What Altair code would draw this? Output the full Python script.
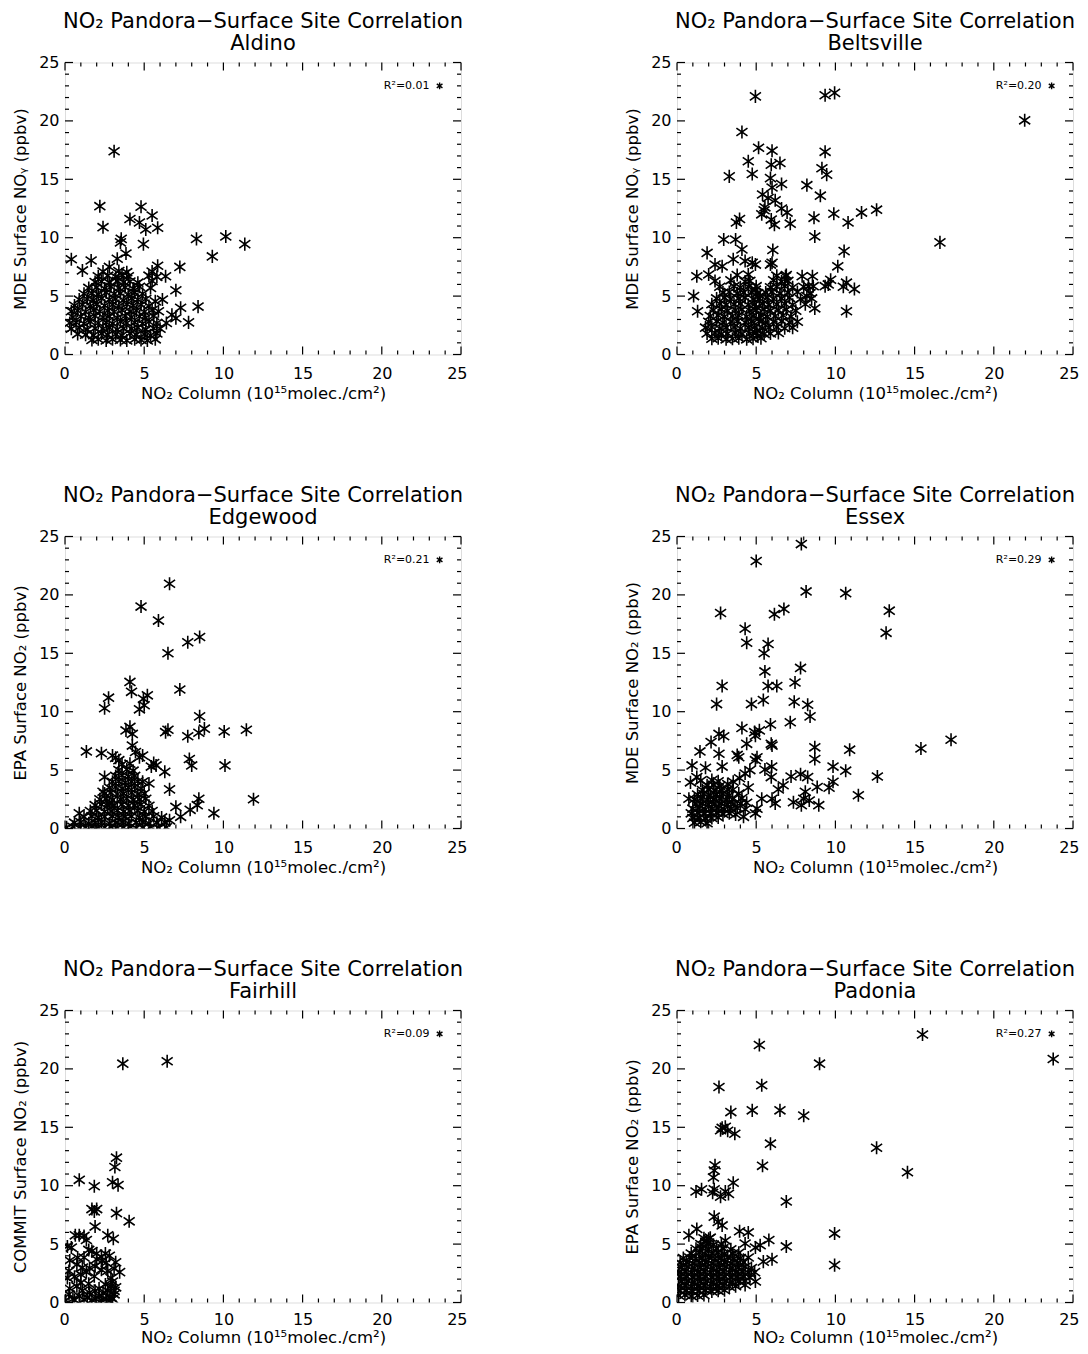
import altair as alt
import pandas as pd

FONT = "DejaVu Sans"

SITES = ["Aldino", "Beltsville", "Edgewood", "Essex", "Fairhill", "Padonia"]
Y_TITLES = [
    "MDE Surface NOᵧ (ppbv)",
    "MDE Surface NOᵧ (ppbv)",
    "EPA Surface NO₂ (ppbv)",
    "MDE Surface NO₂ (ppbv)",
    "COMMIT Surface NO₂ (ppbv)",
    "EPA Surface NO₂ (ppbv)",
]
R2_LABELS = ["R²=0.01", "R²=0.20", "R²=0.21", "R²=0.29", "R²=0.09", "R²=0.27"]
TITLE_LINE = "NO₂ Pandora−Surface Site Correlation"
X_TITLE = "NO₂ Column (10¹⁵molec./cm²)"
MAJOR_TICKS = [0, 5, 10, 15, 20, 25]
MINOR_TICKS = [1, 2, 3, 4, 6, 7, 8, 9, 11, 12, 13, 14, 16, 17, 18, 19, 21, 22, 23, 24]
LEGEND_POS = (23.65, 23.0)

ALDINO = [
    (3.1, 17.4), (2.2, 12.7), (4.8, 12.65), (5.5, 11.9), (4.1, 11.6), (4.7, 11.3), (2.4, 10.9), (5.1, 10.7),
    (5.85, 10.85), (3.55, 9.9), (3.5, 9.6), (4.95, 9.45), (3.85, 8.65), (3.3, 8.2), (0.4, 8.15), (1.65, 8.05),
    (1.1, 7.2), (2.8, 7.5), (5.85, 7.6), (7.25, 7.5), (5.5, 7.1), (6.35, 6.7), (7.0, 5.5), (7.3, 4.0), (8.4, 4.1),
    (6.75, 3.4), (7.0, 3.1), (7.8, 2.75), (6.4, 2.7), (8.3, 9.9), (10.15, 10.1), (11.35, 9.45), (9.3, 8.4),
    (6.15, 4.7), (5.7, 4.55),
    (1.7, 1.25), (2.1, 1.3), (2.6, 1.2), (3.0, 1.3), (3.5, 1.25), (3.9, 1.2), (4.4, 1.3), (4.8, 1.25), (5.2, 1.2), (5.7, 1.3),
    (0.8, 1.75), (1.3, 1.7), (1.8, 1.65), (2.3, 1.8), (2.7, 1.7), (3.2, 1.75), (3.6, 1.65), (4.1, 1.8), (4.5, 1.7),
    (5.0, 1.75), (5.4, 1.65), (5.8, 1.8),
    (0.4, 2.2), (0.9, 2.3), (1.4, 2.15), (1.9, 2.25), (2.4, 2.2), (2.8, 2.3), (3.3, 2.15), (3.7, 2.25), (4.2, 2.2),
    (4.6, 2.3), (5.1, 2.15), (5.6, 2.25), (6.0, 2.2),
    (0.3, 2.7), (0.7, 2.75), (1.2, 2.65), (1.6, 2.8), (2.1, 2.7), (2.6, 2.75), (3.0, 2.65), (3.5, 2.8), (3.9, 2.7),
    (4.4, 2.75), (4.9, 2.65), (5.3, 2.8), (5.8, 2.7),
    (0.5, 3.2), (1.0, 3.25), (1.5, 3.15), (1.9, 3.3), (2.4, 3.2), (2.8, 3.25), (3.3, 3.15), (3.8, 3.3), (4.2, 3.2),
    (4.7, 3.25), (5.1, 3.15), (5.6, 3.3),
    (0.4, 3.7), (0.8, 3.75), (1.3, 3.65), (1.8, 3.8), (2.2, 3.7), (2.7, 3.75), (3.1, 3.65), (3.6, 3.8), (4.1, 3.7),
    (4.5, 3.75), (5.0, 3.65), (5.5, 3.8), (5.9, 3.7),
    (0.6, 4.2), (1.1, 4.25), (1.6, 4.15), (2.0, 4.3), (2.5, 4.2), (3.0, 4.25), (3.4, 4.15), (3.9, 4.3), (4.3, 4.2),
    (4.8, 4.25), (5.3, 4.15),
    (0.9, 4.7), (1.4, 4.75), (1.8, 4.65), (2.3, 4.8), (2.8, 4.7), (3.2, 4.75), (3.7, 4.65), (4.2, 4.8), (4.6, 4.7), (5.1, 4.75),
    (1.2, 5.2), (1.7, 5.25), (2.1, 5.15), (2.6, 5.3), (3.1, 5.2), (3.5, 5.25), (4.0, 5.15), (4.4, 5.3), (4.9, 5.2),
    (1.5, 5.7), (2.0, 5.75), (2.5, 5.65), (2.9, 5.8), (3.4, 5.7), (3.8, 5.75), (4.3, 5.65), (4.7, 5.8), (5.4, 5.7),
    (1.9, 6.2), (2.3, 6.25), (2.8, 6.15), (3.3, 6.3), (3.7, 6.2), (4.1, 6.25), (4.6, 6.15), (5.5, 6.3),
    (2.1, 6.7), (2.7, 6.75), (3.2, 6.65), (3.6, 6.8), (4.0, 6.7), (5.3, 6.75), (5.8, 6.65),
    (2.4, 7.1), (3.4, 7.15), (3.9, 7.05),
]

BELTSVILLE = [
    (21.95, 20.05), (16.6, 9.6), (4.95, 22.1), (9.35, 22.2), (9.95, 22.4), (4.1, 19.05), (5.15, 17.7), (6.0, 17.45),
    (9.35, 17.35), (4.5, 16.55), (5.95, 16.25), (6.5, 16.4), (9.15, 15.95), (4.75, 15.45), (9.45, 15.4), (3.3, 15.25),
    (5.9, 15.1), (6.6, 14.6), (8.2, 14.5), (6.0, 14.3), (5.4, 13.7), (9.05, 13.6), (5.75, 13.4), (6.2, 13.2),
    (5.55, 12.6), (5.5, 12.35), (5.35, 12.0), (6.6, 12.5), (6.95, 12.15), (5.95, 11.55), (6.15, 11.1), (7.15, 11.2),
    (3.75, 11.3), (3.95, 11.6), (9.9, 12.05), (8.65, 11.7), (10.8, 11.3), (11.65, 12.15), (12.6, 12.4), (8.7, 10.1),
    (2.95, 9.85), (3.7, 9.85), (6.05, 8.95), (10.55, 8.85), (1.9, 8.7), (4.1, 9.0), (10.15, 7.55), (6.0, 7.85),
    (2.4, 7.7), (2.85, 7.55), (3.55, 8.15), (4.3, 8.0), (4.75, 7.85), (4.95, 7.7), (1.25, 6.7), (2.0, 6.85),
    (1.05, 5.0), (1.3, 3.7), (8.7, 3.95), (10.7, 3.7), (9.55, 6.0), (11.2, 5.6), (10.5, 5.8), (10.7, 6.15),
    (9.35, 5.85), (9.7, 6.4), (7.9, 6.7), (8.55, 6.7), (8.3, 5.85), (8.2, 5.0), (6.85, 6.7), (5.9, 7.7),
    (2.2, 1.35), (2.6, 1.4), (3.1, 1.3), (3.5, 1.35), (3.9, 1.4), (4.4, 1.3), (4.8, 1.35), (5.3, 1.4),
    (1.9, 1.8), (2.4, 1.85), (2.8, 1.75), (3.2, 1.8), (3.7, 1.85), (4.1, 1.75), (4.6, 1.8), (5.0, 1.85), (5.5, 1.75),
    (5.9, 1.8), (6.4, 1.85),
    (1.8, 2.3), (2.2, 2.35), (2.7, 2.25), (3.1, 2.3), (3.6, 2.35), (4.0, 2.25), (4.5, 2.3), (4.9, 2.35), (5.4, 2.25),
    (5.8, 2.3), (6.3, 2.35), (6.8, 2.25), (7.3, 2.3),
    (2.0, 2.8), (2.5, 2.85), (2.9, 2.75), (3.4, 2.8), (3.8, 2.85), (4.3, 2.75), (4.7, 2.8), (5.2, 2.85), (5.6, 2.75),
    (6.1, 2.8), (6.6, 2.85), (7.1, 2.75), (7.6, 2.8),
    (2.1, 3.3), (2.6, 3.35), (3.0, 3.25), (3.5, 3.3), (3.9, 3.35), (4.4, 3.25), (4.8, 3.3), (5.3, 3.35), (5.7, 3.25),
    (6.2, 3.3), (6.7, 3.35), (7.2, 3.25),
    (2.3, 3.8), (2.8, 3.85), (3.2, 3.75), (3.7, 3.8), (4.1, 3.85), (4.6, 3.75), (5.0, 3.8), (5.5, 3.85), (5.9, 3.75),
    (6.4, 3.8), (6.9, 3.85), (7.5, 3.75),
    (2.2, 4.3), (2.7, 4.35), (3.1, 4.25), (3.6, 4.3), (4.0, 4.35), (4.5, 4.25), (4.9, 4.3), (5.4, 4.35), (5.8, 4.25),
    (6.3, 4.3), (6.8, 4.35), (7.3, 4.25), (8.1, 4.3),
    (2.5, 4.8), (3.0, 4.85), (3.4, 4.75), (3.9, 4.8), (4.3, 4.85), (4.8, 4.75), (5.2, 4.8), (5.7, 4.85), (6.1, 4.75),
    (6.6, 4.8), (7.1, 4.85), (7.8, 4.75), (8.5, 4.8),
    (2.9, 5.3), (3.3, 5.35), (3.8, 5.25), (4.2, 5.3), (4.7, 5.35), (5.1, 5.25), (5.6, 5.3), (6.0, 5.35), (6.5, 5.25),
    (7.0, 5.3), (7.6, 5.35), (8.4, 5.25),
    (2.7, 5.8), (3.6, 5.85), (4.0, 5.75), (4.5, 5.8), (5.0, 5.85), (5.9, 5.75), (6.3, 5.8), (6.8, 5.85), (7.3, 5.75),
    (8.0, 5.8), (8.6, 5.85),
    (2.4, 6.3), (3.4, 6.35), (4.3, 6.25), (4.6, 6.3), (6.1, 6.35), (6.6, 6.25), (7.0, 6.3),
    (3.8, 6.8), (4.5, 6.85), (6.3, 6.75), (6.9, 6.8),
    (5.05, 2.05), (5.15, 3.05), (5.0, 4.05), (5.25, 5.05), (4.95, 5.55), (5.1, 1.6),
]

EDGEWOOD = [
    (6.6, 20.95), (4.8, 19.0), (5.9, 17.8), (7.75, 15.95), (8.5, 16.4), (6.5, 15.0), (4.1, 12.55), (4.2, 11.7),
    (7.25, 11.9), (2.75, 11.2), (2.5, 10.3), (5.2, 11.4), (4.95, 11.1), (4.7, 10.2), (5.0, 10.55), (8.5, 9.6),
    (3.85, 8.4), (4.1, 8.7), (4.25, 8.1), (6.35, 8.25), (6.5, 8.45), (7.75, 7.9), (8.45, 8.2), (8.8, 8.55),
    (10.05, 8.3), (11.45, 8.45), (4.25, 7.1), (4.45, 6.55), (1.35, 6.6), (2.3, 6.45), (7.85, 5.95), (8.0, 5.4),
    (10.1, 5.4), (6.3, 4.85), (6.6, 3.35), (11.9, 2.5), (8.45, 2.55), (8.35, 2.0), (7.9, 1.6), (9.4, 1.3),
    (7.0, 1.85), (7.3, 1.0), (6.6, 0.7), (5.6, 5.6), (5.45, 5.3), (5.75, 5.4), (4.7, 6.1), (4.9, 6.25),
    (3.2, 6.05), (3.4, 5.85), (3.0, 6.25), (2.5, 4.4), (2.4, 3.15), (4.9, 4.0), (5.3, 3.85), (2.8, 2.15), (0.9, 1.3),
    (0.1, 0.1), (0.5, 0.15), (0.9, 0.05), (1.3, 0.1), (1.7, 0.15), (2.1, 0.05), (2.5, 0.1), (2.9, 0.15), (3.3, 0.05),
    (3.7, 0.1), (4.1, 0.15), (4.5, 0.05), (4.9, 0.1), (5.4, 0.15), (5.9, 0.05), (6.4, 0.1),
    (0.6, 0.5), (1.0, 0.55), (1.5, 0.45), (1.9, 0.5), (2.3, 0.55), (2.8, 0.45), (3.2, 0.5), (3.6, 0.55), (4.0, 0.45),
    (4.5, 0.5), (4.9, 0.55), (5.3, 0.45), (5.8, 0.5), (6.3, 0.55),
    (1.2, 1.0), (1.7, 1.05), (2.1, 0.95), (2.5, 1.0), (3.0, 1.05), (3.4, 0.95), (3.8, 1.0), (4.2, 1.05), (4.7, 0.95),
    (5.1, 1.0), (5.6, 1.05), (6.1, 0.95),
    (1.6, 1.5), (2.0, 1.55), (2.5, 1.45), (2.9, 1.5), (3.3, 1.55), (3.7, 1.45), (4.1, 1.5), (4.6, 1.55), (5.0, 1.45), (5.5, 1.5),
    (1.9, 2.0), (2.3, 2.05), (2.7, 1.95), (3.1, 2.0), (3.6, 2.05), (4.0, 1.95), (4.4, 2.0), (4.8, 2.05), (5.3, 1.95),
    (2.2, 2.5), (2.6, 2.55), (3.0, 2.45), (3.5, 2.5), (3.9, 2.55), (4.3, 2.45), (4.7, 2.5), (5.1, 2.55),
    (2.5, 3.0), (2.9, 3.05), (3.3, 2.95), (3.7, 3.0), (4.2, 3.05), (4.6, 2.95), (5.0, 3.0),
    (2.8, 3.5), (3.2, 3.55), (3.6, 3.45), (4.0, 3.5), (4.4, 3.55), (4.8, 3.45),
    (3.0, 4.0), (3.4, 4.05), (3.8, 3.95), (4.2, 4.0), (4.6, 4.05),
    (3.2, 4.5), (3.6, 4.55), (4.0, 4.45), (4.4, 4.5),
    (3.4, 5.0), (3.9, 5.05), (4.3, 4.95),
    (3.6, 5.5), (4.1, 5.55),
]

ESSEX = [
    (7.85, 24.35), (5.0, 22.9), (8.15, 20.3), (10.65, 20.15), (13.4, 18.65), (13.2, 16.75), (2.75, 18.45),
    (6.75, 18.8), (6.15, 18.35), (4.3, 17.1), (4.4, 15.9), (5.5, 15.0), (5.75, 15.8), (15.4, 6.85), (17.3, 7.6),
    (7.8, 13.75), (5.55, 13.45), (7.45, 12.5), (2.85, 12.2), (5.75, 12.2), (6.3, 12.2), (5.45, 11.0), (7.4, 10.85),
    (2.5, 10.65), (4.7, 10.65), (8.25, 10.6), (8.4, 9.6), (7.15, 9.1), (5.9, 8.9), (4.1, 8.6), (2.65, 8.1),
    (2.95, 7.9), (4.9, 8.25), (5.2, 8.4), (4.95, 7.95), (5.95, 7.25), (6.0, 7.1), (4.4, 7.25), (2.15, 7.4),
    (1.45, 6.6), (2.65, 6.4), (3.8, 6.3), (3.9, 6.1), (5.05, 6.1), (4.95, 5.85), (10.9, 6.75), (8.7, 6.95),
    (8.7, 5.95), (9.85, 5.3), (10.65, 4.95), (12.65, 4.45), (11.45, 2.85), (9.85, 4.0), (9.6, 3.5), (8.85, 3.55),
    (8.95, 2.0), (8.35, 2.4), (7.8, 4.65), (8.25, 4.4), (7.2, 4.45), (8.1, 3.15), (8.0, 2.55), (7.35, 2.25),
    (7.85, 2.0), (5.55, 5.05), (5.95, 4.4), (5.98, 5.3), (6.7, 3.7), (6.4, 3.35), (6.0, 2.55), (6.2, 2.15),
    (4.95, 1.3), (5.05, 1.7), (5.35, 2.55), (4.6, 5.0), (4.3, 4.7), (3.55, 4.0), (3.95, 4.3), (2.85, 5.3),
    (0.95, 5.4), (1.8, 5.2), (1.25, 4.4), (0.85, 3.95), (0.75, 2.55),
    (3.7, 1.2), (4.1, 2.6), (4.4, 2.2), (3.9, 3.0), (3.5, 3.3), (4.5, 3.5), (3.2, 3.8), (4.2, 1.0),
    (1.1, 0.5), (1.5, 0.55), (1.9, 0.45),
    (1.0, 0.9), (1.4, 0.95), (1.8, 0.85), (2.2, 0.9), (2.6, 0.95),
    (0.9, 1.3), (1.3, 1.35), (1.7, 1.25), (2.1, 1.3), (2.5, 1.35), (2.9, 1.25), (3.3, 1.3),
    (1.0, 1.7), (1.4, 1.75), (1.8, 1.65), (2.2, 1.7), (2.6, 1.75), (3.0, 1.65), (3.4, 1.7), (3.8, 1.75), (4.3, 1.65),
    (1.2, 2.1), (1.6, 2.15), (2.0, 2.05), (2.4, 2.1), (2.8, 2.15), (3.2, 2.05), (3.6, 2.1), (4.0, 2.15),
    (1.1, 2.5), (1.5, 2.55), (1.9, 2.45), (2.3, 2.5), (2.7, 2.55), (3.1, 2.45), (3.5, 2.5),
    (1.3, 2.9), (1.7, 2.95), (2.1, 2.85), (2.5, 2.9), (2.9, 2.95), (3.3, 2.85),
    (1.6, 3.3), (2.0, 3.35), (2.4, 3.25), (2.8, 3.3), (3.2, 3.35),
    (1.9, 3.7), (2.3, 3.75), (2.7, 3.65),
    (1.5, 4.1), (2.2, 4.15), (2.6, 4.05),
]

FAIRHILL = [
    (6.45, 20.65), (3.65, 20.45), (3.25, 12.4), (3.15, 11.6), (3.0, 10.3), (3.35, 10.05), (0.9, 10.5), (1.85, 9.95),
    (1.7, 8.0), (2.0, 8.0), (1.85, 7.8), (3.25, 7.65), (4.05, 6.95), (1.9, 6.5), (0.65, 5.75), (0.9, 5.75),
    (1.2, 5.7), (2.7, 5.75), (1.35, 5.35), (3.05, 5.45), (0.15, 4.8), (0.4, 4.7), (1.7, 4.4), (2.55, 4.2),
    (2.8, 4.0), (0.8, 3.85), (3.2, 3.45), (1.2, 3.85), (2.0, 3.7), (2.35, 3.55), (3.45, 2.6), (2.7, 2.7),
    (1.35, 2.6), (1.0, 2.4), (0.25, 2.7), (1.85, 2.25), (0.15, 2.1), (2.55, 1.55), (2.9, 1.4), (2.15, 1.2),
    (3.1, 1.0), (0.25, 0.7), (0.9, 0.55), (1.55, 0.85), (2.15, 0.55), (2.9, 0.45), (3.1, 0.7), (0.5, 0.3),
    (1.2, 0.25), (1.95, 0.3), (2.6, 0.3), (0.05, 0.2), (0.75, 3.25), (1.55, 2.95), (1.0, 1.7), (0.75, 1.4),
    (0.3, 1.2), (0.6, 0.2), (1.4, 0.4), (1.7, 0.2), (2.3, 0.2), (2.8, 0.15), (3.0, 0.3), (1.1, 1.0), (1.9, 1.0),
    (2.4, 0.8), (2.7, 1.0), (3.2, 1.3), (2.9, 2.1), (3.0, 1.8), (1.5, 1.6), (0.6, 2.2), (1.1, 3.0), (1.9, 3.1),
    (2.3, 2.8), (2.6, 3.4), (3.1, 2.9), (0.3, 3.6), (1.5, 4.5), (2.0, 4.2), (2.3, 3.9),
]

PADONIA = [
    (15.5, 22.95), (23.75, 20.85), (5.2, 22.05), (9.0, 20.45), (2.65, 18.45), (5.35, 18.6), (4.75, 16.45),
    (6.5, 16.45), (8.0, 16.0), (3.4, 16.3), (2.85, 14.95), (3.05, 15.05), (3.2, 14.7), (2.75, 14.75), (3.65, 14.45),
    (5.9, 13.6), (12.6, 13.25), (14.55, 11.15), (5.4, 11.7), (2.4, 11.75), (2.35, 11.3), (2.3, 10.7), (1.2, 9.5),
    (1.55, 9.7), (2.25, 9.4), (3.05, 9.5), (3.25, 9.3), (2.75, 9.05), (2.35, 9.7), (3.55, 10.25), (6.9, 8.65),
    (9.95, 5.9), (9.95, 3.2), (6.9, 4.8), (5.8, 5.35), (6.0, 3.7), (5.45, 3.5), (4.5, 6.0), (3.95, 6.1),
    (2.35, 7.35), (2.6, 6.9), (2.85, 6.6), (1.25, 6.3), (0.75, 5.75), (1.85, 5.2), (2.0, 5.45), (3.05, 5.3),
    (4.3, 5.05), (4.95, 4.7), (5.25, 4.9), (4.3, 1.5), (4.95, 1.8),
    (0.1, 0.6), (0.5, 0.65), (0.9, 0.55), (1.3, 0.6), (1.7, 0.65),
    (0.2, 1.0), (0.6, 1.05), (1.0, 0.95), (1.4, 1.0), (1.8, 1.05), (2.2, 0.95), (2.6, 1.0), (3.0, 1.05),
    (0.1, 1.4), (0.5, 1.45), (0.9, 1.35), (1.3, 1.4), (1.7, 1.45), (2.1, 1.35), (2.5, 1.4), (2.9, 1.45), (3.3, 1.35), (3.7, 1.4),
    (0.3, 1.8), (0.7, 1.85), (1.1, 1.75), (1.5, 1.8), (1.9, 1.85), (2.3, 1.75), (2.7, 1.8), (3.1, 1.85), (3.5, 1.75),
    (3.9, 1.8), (4.3, 1.85),
    (0.2, 2.2), (0.6, 2.25), (1.0, 2.15), (1.4, 2.2), (1.8, 2.25), (2.2, 2.15), (2.6, 2.2), (3.0, 2.25), (3.4, 2.15),
    (3.8, 2.2), (4.2, 2.25), (4.6, 2.15),
    (0.1, 2.6), (0.5, 2.65), (0.9, 2.55), (1.3, 2.6), (1.7, 2.65), (2.1, 2.55), (2.5, 2.6), (2.9, 2.65), (3.3, 2.55),
    (3.7, 2.6), (4.1, 2.65), (4.5, 2.55), (4.9, 2.6),
    (0.3, 3.0), (0.7, 3.05), (1.1, 2.95), (1.5, 3.0), (1.9, 3.05), (2.3, 2.95), (2.7, 3.0), (3.1, 3.05), (3.5, 2.95),
    (3.9, 3.0), (4.3, 3.05), (4.7, 2.95),
    (0.2, 3.4), (0.6, 3.45), (1.0, 3.35), (1.4, 3.4), (1.8, 3.45), (2.2, 3.35), (2.6, 3.4), (3.0, 3.45), (3.4, 3.35),
    (3.8, 3.4), (4.2, 3.45),
    (0.4, 3.8), (0.8, 3.85), (1.2, 3.75), (1.6, 3.8), (2.0, 3.85), (2.4, 3.75), (2.8, 3.8), (3.2, 3.85), (3.6, 3.75),
    (4.0, 3.8), (4.5, 3.85),
    (0.9, 4.2), (1.4, 4.25), (1.8, 4.15), (2.2, 4.2), (2.6, 4.25), (3.0, 4.15), (3.5, 4.2), (3.9, 4.25),
    (1.2, 4.6), (1.6, 4.65), (2.0, 4.55), (2.5, 4.6), (2.9, 4.65), (3.4, 4.55),
    (1.5, 5.0), (1.9, 5.05), (2.3, 4.95), (2.8, 5.0),
    (1.7, 5.5), (2.1, 5.55),
]

SITE_POINTS = [ALDINO, BELTSVILLE, EDGEWOOD, ESSEX, FAIRHILL, PADONIA]

W, H = 396, 292
ASTERISK = "M0,-1L0,1M-0.85,-0.6L0.85,0.6M-0.85,0.6L0.85,-0.6"
XS = alt.Scale(domain=[0, 25], nice=False, zero=False)
YS = alt.Scale(domain=[0, 25], nice=False, zero=False)


def make_axes(ytitle, last_row):
    common = dict(
        values=MAJOR_TICKS, ticks=False, domain=False, grid=False, labelOverlap=False,
        labelFont=FONT, labelFontSize=16, labelColor="black",
        titleFont=FONT, titleFontSize=16.5, titleFontWeight="normal", titleColor="black",
    )
    lp, tp = (9, 2) if last_row else (11, 4)
    xa = alt.Axis(title=X_TITLE, labelPadding=lp, titlePadding=tp, labelFlush=True, labelFlushOffset=6, **common)
    ya = alt.Axis(title=ytitle, labelPadding=6, titlePadding=10, labelFlush=False, **common)
    return xa, ya


def tick_layers(xa, ya):
    layers = []
    for vals, length in ((MAJOR_TICKS, 8), (MINOR_TICKS, 4)):
        d = pd.DataFrame({"t": vals})
        base = alt.Chart(d).mark_rule(color="black", strokeWidth=1.2)
        layers.append(base.encode(x=alt.X("t:Q", scale=XS, axis=xa), y=alt.value(H), y2=alt.value(H - length)))
        layers.append(base.encode(x=alt.X("t:Q", scale=XS, axis=xa), y=alt.value(0), y2=alt.value(length)))
        layers.append(base.encode(y=alt.Y("t:Q", scale=YS, axis=ya), x=alt.value(0), x2=alt.value(length)))
        layers.append(base.encode(y=alt.Y("t:Q", scale=YS, axis=ya), x=alt.value(W), x2=alt.value(W - length)))
    return layers


def panel(site, pts, ytitle, r2, last_row):
    xa, ya = make_axes(ytitle, last_row)
    df = pd.DataFrame(pts, columns=["x", "y"])
    points = alt.Chart(df).mark_point(
        shape=ASTERISK, size=170, filled=False, color="black", strokeWidth=1.6, opacity=1, clip=True
    ).encode(
        x=alt.X("x:Q", scale=XS, axis=xa),
        y=alt.Y("y:Q", scale=YS, axis=ya),
    )
    leg = pd.DataFrame({"x": [LEGEND_POS[0]], "y": [LEGEND_POS[1]], "label": [r2]})
    leg_text = alt.Chart(leg).mark_text(
        align="right", baseline="middle", dx=-10, font=FONT, fontSize=11, color="black"
    ).encode(x=alt.X("x:Q", scale=XS, axis=xa), y=alt.Y("y:Q", scale=YS, axis=ya), text="label:N")
    leg_sym = alt.Chart(leg).mark_point(
        shape=ASTERISK, size=45, filled=False, color="black", strokeWidth=1.4, opacity=1
    ).encode(x=alt.X("x:Q", scale=XS, axis=xa), y=alt.Y("y:Q", scale=YS, axis=ya))
    return alt.layer(points, leg_text, leg_sym, *tick_layers(xa, ya)).properties(
        width=W, height=H,
        title=alt.TitleParams(
            text=[TITLE_LINE, site], font=FONT, fontSize=21, fontWeight="normal", color="black",
            anchor="middle", offset=1, lineHeight=22),
    )


panels = [
    panel(s, p, yt, r, i >= 4)
    for i, (s, p, yt, r) in enumerate(zip(SITES, SITE_POINTS, Y_TITLES, R2_LABELS))
]

chart = alt.concat(
    *panels, columns=2, spacing={"row": 182, "column": 216}, bounds="flush"
).properties(
    padding={"left": 4, "right": 0, "top": 1.5, "bottom": 0}
).configure_view(stroke="black", strokeWidth=1.5).configure(background="white")

chart.save("out.html", embed_options={"renderer": "svg", "actions": False})
